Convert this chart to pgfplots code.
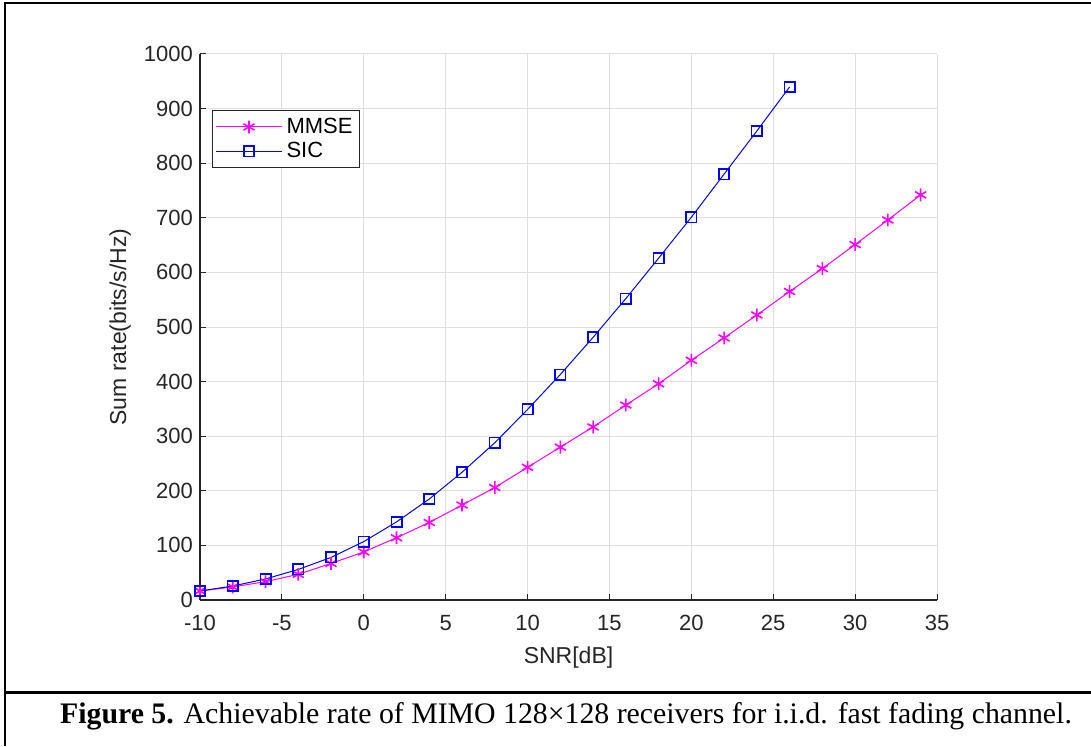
\documentclass[border=0pt]{standalone}
\usepackage{pgfplots}
\pgfplotsset{compat=1.18}
\usepackage{fontspec}
\setmainfont{Liberation Sans}
\newfontfamily\capfont{Liberation Serif}
\definecolor{mmse}{rgb}{1,0,1}
\definecolor{sic}{rgb}{0,0,1}
\begin{document}
\begin{tikzpicture}
\useasboundingbox (0,0) rectangle (545.5pt,373pt);
\draw[line width=1.2pt] (2.25pt,371.6pt) -- (545.5pt,371.6pt);
\draw[line width=1pt] (2.25pt,372.2pt) -- (2.25pt,0pt);
\draw[line width=1.5pt] (2.25pt,27pt) -- (545.5pt,27pt);
\node[anchor=base,font=\capfont\fontsize{14.9}{18}\selectfont] at (283pt,11.5pt) {\textbf{Figure 5.} Achievable rate of MIMO 128×128 receivers for i.i.d. fast fading channel.};
\begin{axis}[
  at={(100pt,73pt)}, anchor=south west,
  scale only axis, width=368.5pt, height=273pt,
  xmin=-10, xmax=35, ymin=0, ymax=1000,
  xtick={-10,-5,...,35}, ytick={0,100,...,1000},
  axis x line*=bottom, axis y line*=left,
  axis line style={-, line width=0.6pt, black!85},
  tick align=inside, major tick length=3pt,
  tick style={black!85, line width=0.5pt},
  grid=major, major grid style={gray!25, line width=0.5pt},
  /pgf/number format/assume math mode=true,
  /pgf/number format/1000 sep={},
  ticklabel style={font=\fontsize{11}{13}\selectfont, text=black!85},
  xticklabel style={yshift=-4pt},
  label style={font=\fontsize{11.5}{13}\selectfont, text=black!85},
  xlabel={SNR[dB]}, ylabel={Sum rate(bits/s/Hz)},
  xlabel style={at={(axis description cs:0.5,0)}, anchor=north, yshift=-20pt},
  ylabel style={at={(axis description cs:0,0.5)}, anchor=south, yshift=31pt},
  legend style={at={(0.0163,0.897)}, anchor=north west, draw=black!85, line width=0.5pt,
    font=\fontsize{11}{12.5}\selectfont, row sep=-1pt, inner xsep=1.5pt, inner ysep=1.5pt},
  legend cell align=left,
  legend image code/.code={\draw[mark repeat=2,mark phase=2] plot coordinates {(0pt,0pt) (16.5pt,0pt) (33pt,0pt)};},
]
\addplot[color=mmse, line width=0.5pt, mark=asterisk, mark size=3.2pt, mark options={color=mmse, solid, line width=0.8pt}] coordinates {
(-10,16.5) (-8,24) (-6,33.6) (-4,47) (-2,67) (0,88) (2,114) (4,142) (6,174) (8,206)
(10,243) (12,280) (14,317) (16,357) (18,396) (20,439) (22,480) (24,522) (26,565)
(28,607) (30,651) (32,696) (34,742)};
\addlegendentry{MMSE}
\addplot[color=sic, line width=0.5pt, mark=square, mark size=2.6pt, mark options={color=sic, solid, line width=0.8pt}] coordinates {
(-10,16.5) (-8,25.6) (-6,38.5) (-4,56) (-2,78) (0,107) (2,143) (4,185) (6,234) (8,288)
(10,349) (12,413) (14,481) (16,552) (18,626) (20,701) (22,780) (24,859) (26,939.6)};
\addlegendentry{SIC}
\end{axis}
\end{tikzpicture}
\end{document}
